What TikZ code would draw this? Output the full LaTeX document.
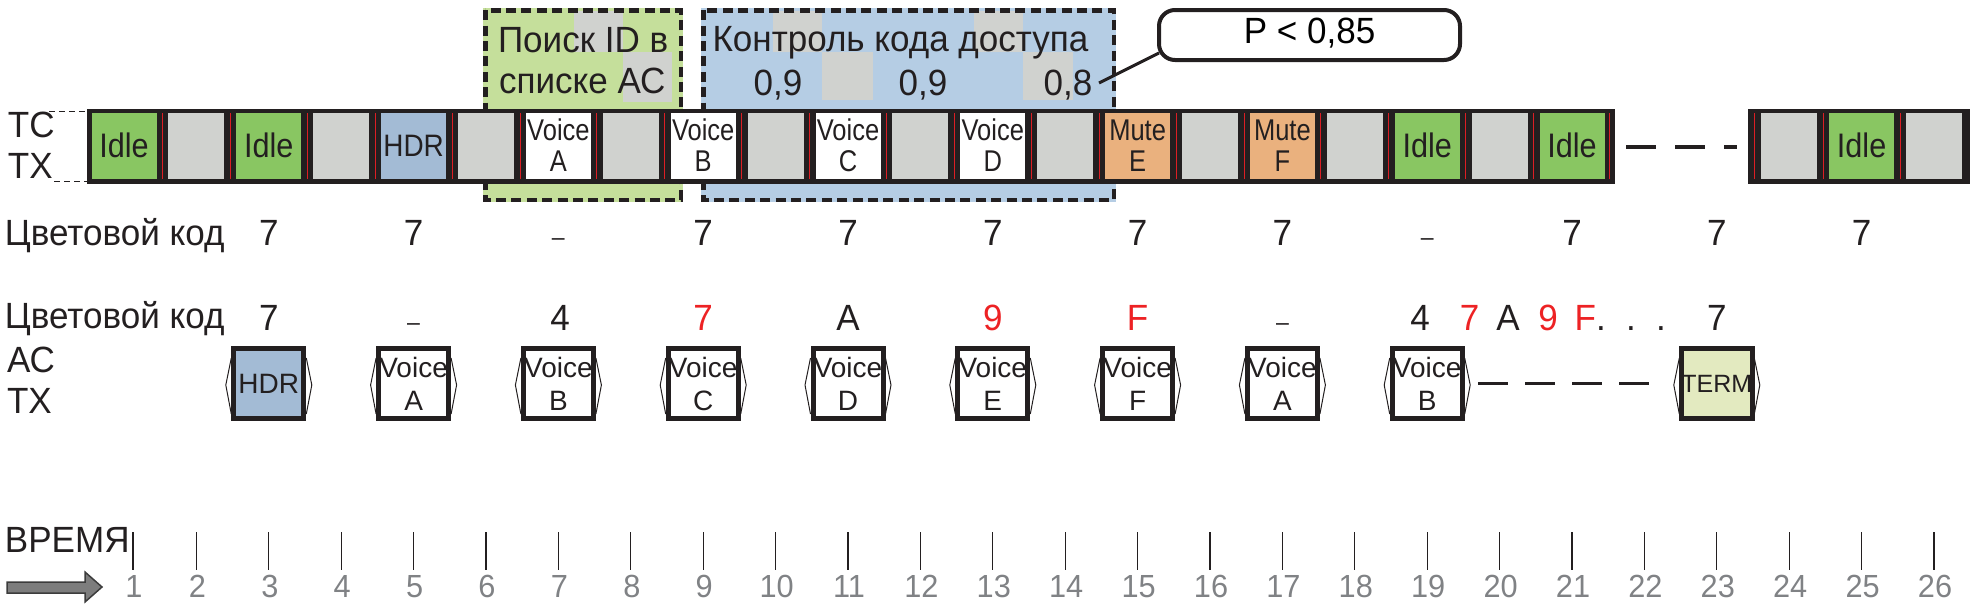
\documentclass[tikz,border=0pt]{standalone}
\usepackage{fontspec}
\setmainfont{Liberation Sans}[FakeStretch=0.96]
\newfontfamily\narrowfont{Liberation Sans}[FakeStretch=0.85]
\newfontfamily\idlefont{Liberation Sans}[FakeStretch=0.9]
\newfontfamily\plainfont{Liberation Sans}
\usetikzlibrary{calc}
\definecolor{idlegreen}{RGB}{137,198,98}
\definecolor{slotgray}{RGB}{208,210,207}
\definecolor{hdrblue}{RGB}{163,187,213}
\definecolor{mutebrown}{RGB}{234,177,126}
\definecolor{boxgreen}{RGB}{197,223,155}
\definecolor{boxblue}{RGB}{181,205,228}
\definecolor{termgreen}{RGB}{227,234,192}
\definecolor{codered}{RGB}{237,34,36}
\definecolor{sepred}{RGB}{220,30,36}
\definecolor{stripblack}{RGB}{35,31,32}
\definecolor{numgray}{RGB}{128,130,133}
\definecolor{arrowgray}{RGB}{125,125,125}
\definecolor{arrowedge}{RGB}{60,60,60}
\begin{document}
\begin{tikzpicture}[x=1pt,y=-1pt,
  every node/.style={inner sep=0pt, outer sep=0pt},
  slotbase/.style={minimum width=65pt, minimum height=66pt, text=stripblack},
  idleslot/.style={slotbase, fill=idlegreen, font=\idlefont\fontsize{34}{38}\selectfont},
  hdrslot/.style={slotbase, fill=hdrblue, font=\idlefont\fontsize{31}{34}\selectfont},
  voiceslot/.style={slotbase, fill=white, align=center, font=\narrowfont\fontsize{30}{31}\selectfont},
  muteslot/.style={slotbase, fill=mutebrown, align=center, font=\narrowfont\fontsize{30}{31}\selectfont},
  grayslot/.style={minimum width=56pt, minimum height=66pt, fill=slotgray},
  redsep/.style={draw=sepred, line width=0.9pt},
  lbl/.style={font=\fontsize{36.5}{40}\selectfont, anchor=base west, text=stripblack},
  val/.style={font=\fontsize{36.5}{40}\selectfont, anchor=base, text=stripblack},
  redval/.style={val, text=codered},
  dashval/.style={font=\fontsize{24}{26}\selectfont, anchor=base, text=stripblack},
  regionborder/.style={draw=stripblack, line width=4.5pt, dash pattern=on 10pt off 5.4pt},
  leaddash/.style={draw=stripblack, line width=1.5pt, dash pattern=on 6pt off 4pt},
  gapdash/.style={draw=stripblack, line width=4pt, dash pattern=on 30pt off 19pt},
  callout/.style={draw=stripblack, line width=4pt, rounded corners=16pt, minimum width=301pt, minimum height=50pt, font=\fontsize{36.5}{40}\selectfont, text height=26pt, text depth=10pt},
  pointer/.style={draw=stripblack, line width=3pt},
  acbox/.style={draw=stripblack, line width=5pt, minimum width=70pt, minimum height=70pt, fill=white, text=stripblack},
  actext/.style={align=center, font=\plainfont\fontsize{28}{33}\selectfont},
  bracket/.style={draw=stripblack, line width=1pt},
  acdash/.style={draw=stripblack, line width=3.4pt, dash pattern=on 30pt off 17pt, shorten <=16pt, shorten >=30pt},
  tick/.style={draw=stripblack, line width=1.2pt},
  tnum/.style={font=\fontsize{32}{36}\selectfont, anchor=base, text=numgray},
  arrowstyle/.style={fill=arrowgray, draw=arrowedge, line width=1.5pt}
]
\useasboundingbox (0,0) rectangle (1973,606);

% ---- highlighted regions ----
\fill[boxgreen] (483,8) rectangle (683,202);
\fill[boxblue] (701,8) rectangle (1116,202);
\fill[slotgray] (574,10.5) rectangle (623,52);
\fill[slotgray] (623,52) rectangle (672,102);
\fill[slotgray] (773,10.5) rectangle (822,52);
\fill[slotgray] (822,52) rectangle (873,100);
\fill[slotgray] (974,10.5) rectangle (1023,52);
\fill[slotgray] (1023,52) rectangle (1073,100);
\draw[regionborder] (485.25,10.25) rectangle (680.75,199.75);
\draw[regionborder] (703.25,10.25) rectangle (1113.75,199.75);

\node[lbl] (search1) at (498,52) {Поиск ID в};
\node[lbl] (search2) at (499,93) {списке АС};
\node[lbl] (ctrl) at (712.5,51) {Контроль кода доступа};
\node[val] (p1) at (778,95) {0,9};
\node[val] (p2) at (923,95) {0,9};
\node[val] (p3) at (1068,95) {0,8};

% ---- callout ----
\node[callout] (call) at (1309.5,35) {P < 0,85};
\coordinate (ptr) at (1099,83);
\draw[pointer] (ptr) -- ($(call.south west)+(0,-7)$);

% ---- TC TX strip ----
\fill[stripblack] (87,109) rectangle (1615,184);
\fill[stripblack] (1748,109) rectangle (1970,184);
\foreach \n in {2,4,...,20,24,26}{
  \pgfmathsetmacro\cx{124+72.4*(\n-1)}
  \node[grayslot] (s\n) at (\cx,146) {};
}
\foreach \n/\st/\t in {1/idleslot/Idle, 3/idleslot/Idle, 5/hdrslot/HDR,
    7/voiceslot/{Voice\\A}, 9/voiceslot/{Voice\\B}, 11/voiceslot/{Voice\\C},
    13/voiceslot/{Voice\\D}, 15/muteslot/{Mute\\E}, 17/muteslot/{Mute\\F},
    19/idleslot/Idle, 21/idleslot/Idle, 25/idleslot/Idle}{
  \pgfmathsetmacro\cx{124+72.4*(\n-1)}
  \node[\st] (s\n) at (\cx,145.5) {\t};
}
\foreach \n in {1,...,20}{
  \pgfmathsetmacro\cx{124+72.4*(\n-1)}
  \pgfmathsetmacro\rx{mod(\n,2)==1 ? \cx+38.5 : \cx+34}
  \draw[redsep] (\rx,113) -- (\rx,179);
}
\foreach \rx in {1609.5,1754.5,1823.2,1900.1}{
  \draw[redsep] (\rx,113) -- (\rx,179);
}
\coordinate (gapL) at (1626,146.5);
\coordinate (gapR) at (1737,146.5);
\draw[gapdash] (gapL) -- (gapR);

\node[lbl] (tc) at (8,137) {TC};
\node[lbl] (tx) at (8,178) {TX};
\coordinate (tcA) at (49,111.7);
\coordinate (tcB) at (87,111.7);
\coordinate (txA) at (54,181.7);
\coordinate (txB) at (87,181.7);
\draw[leaddash] (tcA) -- (tcB);
\draw[leaddash] (txA) -- (txB);

% ---- colour code row 1 ----
\node[lbl] (cc1) at (5,245) {Цветовой код};
\foreach \n in {3,5,9,11,13,15,17,21,23,25}{
  \pgfmathsetmacro\cx{124+72.4*(\n-1)}
  \node[val] (ra\n) at (\cx,245) {7};
}
\foreach \n in {7,19}{
  \pgfmathsetmacro\cx{124+72.4*(\n-1)}
  \node[dashval] (ra\n) at (\cx,245) {–};
}

% ---- colour code row 2 ----
\node[lbl] (cc2) at (5,328) {Цветовой код};
\node[val] (rb3) at (268.8,330) {7};
\node[dashval] (rb5) at (413.6,330) {–};
\node[val] (rb7) at (560,330) {4};
\node[redval] (rb9) at (703.2,330) {7};
\node[val] (rb11) at (848,330) {A};
\node[redval] (rb13) at (992.8,330) {9};
\node[redval] (rb15) at (1137.6,330) {F};
\node[dashval] (rb17) at (1282.4,330) {–};
\node[val] (rb19) at (1420,330) {4};
\node[redval] (rbx1) at (1469.5,330) {7};
\node[val] (rbx2) at (1508,330) {A};
\node[redval] (rbx3) at (1548,330) {9};
\node[redval] (rbx4) at (1585.4,330) {F};
\node[val] (rbdots) at (1631,330) {.\hspace{20.3pt}.\hspace{20.3pt}.};
\node[val] (rb23) at (1716.8,330) {7};

% ---- AC TX row ----
\node[lbl] (acl) at (7,372) {АС};
\node[lbl] (actx) at (7,413) {TX};
\foreach \n in {3,5,...,19,23}{
  \pgfmathsetmacro\cx{124+72.4*(\n-1)}
  \draw[bracket] (\cx-37.5,358) -- (\cx-43,385) -- (\cx-37.5,414);
  \draw[bracket] (\cx+37.5,358) -- (\cx+43,385) -- (\cx+37.5,414);
}
\node[acbox, fill=hdrblue, font=\plainfont\fontsize{28}{33}\selectfont] (ac3) at (268.8,383.5) {HDR};
\foreach \n/\t in {5/A, 7/B, 9/C, 11/D, 13/E, 15/F, 17/A, 19/B}{
  \pgfmathsetmacro\cx{124+72.4*(\n-1)}
  \node[acbox, actext] (ac\n) at (\cx,383.5) {Voice\\\t};
}
\node[acbox, fill=termgreen, font=\plainfont\fontsize{25}{30}\selectfont] (ac23) at (1716.8,383.5) {TERM};
\draw[acdash] (ac19) -- (ac23);

% ---- time axis ----
\node[lbl] (time) at (5,552) {ВРЕМЯ};
\foreach \n in {1,...,26}{
  \pgfmathsetmacro\cx{\n==1 ? 133 : 124+72.4*(\n-1)}
  \draw[tick] (\cx,532) -- (\cx,570);
  \node[tnum] (t\n) at (\cx+1,597) {\n};
}
\filldraw[arrowstyle] (7,582) -- (85,582) -- (85,572) -- (102,587) -- (85,602) -- (85,593) -- (7,593) -- cycle;
\end{tikzpicture}
\end{document}
